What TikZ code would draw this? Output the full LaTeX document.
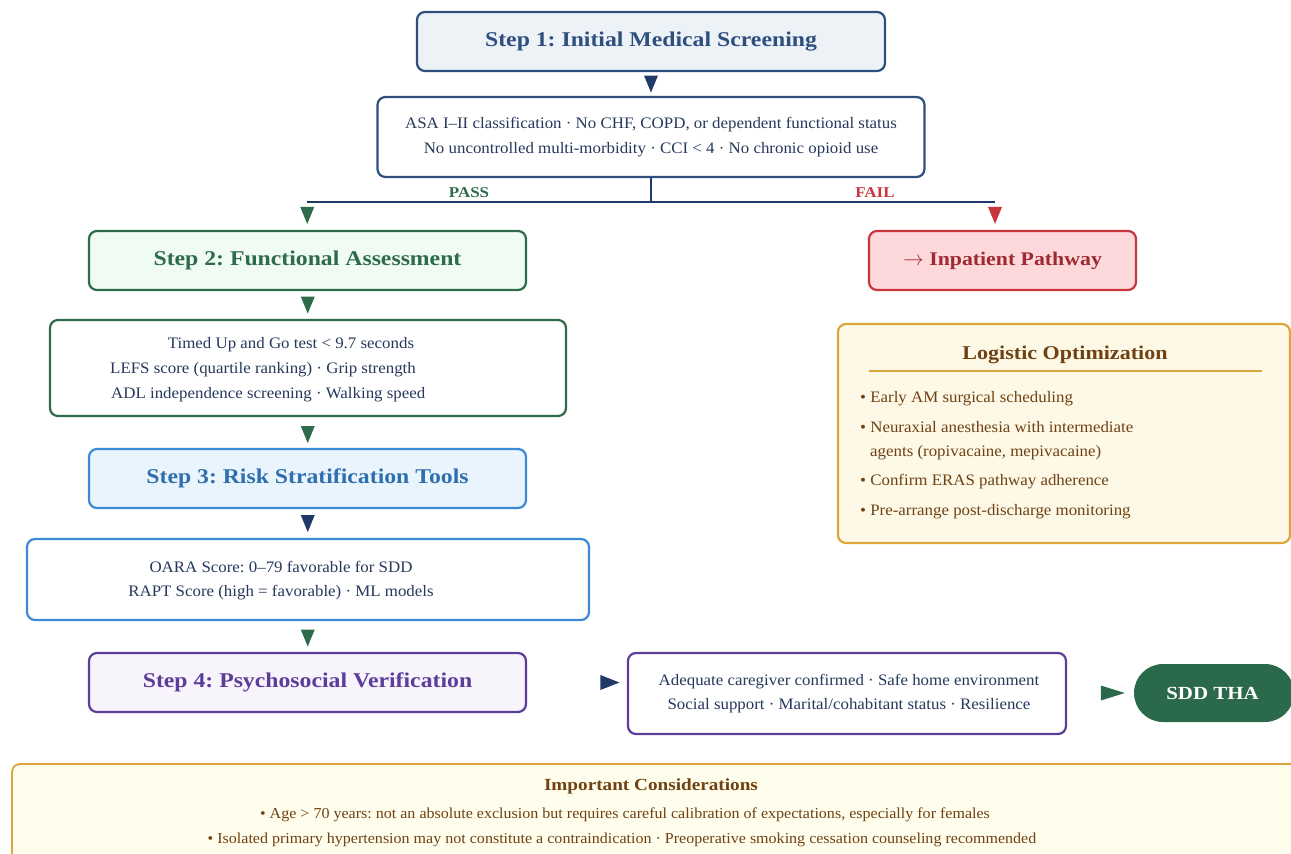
\documentclass[tikz,border=0pt]{standalone}
\usepackage{fontspec}
\setmainfont[FakeStretch=1.055]{Liberation Serif}
\newfontfamily\hdfont[FakeStretch=1.13]{Liberation Serif}
\usetikzlibrary{calc}
\frenchspacing
\definecolor{navy}{HTML}{1F3A68}
\definecolor{txt}{HTML}{26385C}
\definecolor{sonebd}{HTML}{2F4F7F}
\definecolor{sonefill}{HTML}{EDF2F7}
\definecolor{grn}{HTML}{2E6B4A}
\definecolor{grnfill}{HTML}{F0FBF3}
\definecolor{blu}{HTML}{3D8BD5}
\definecolor{blufill}{HTML}{EAF4FC}
\definecolor{blutxt}{HTML}{2F6EAF}
\definecolor{pur}{HTML}{5C3D99}
\definecolor{purfill}{HTML}{F8F4FC}
\definecolor{redbd}{HTML}{C9363E}
\definecolor{redfill}{HTML}{FDD9DC}
\definecolor{redtxt}{HTML}{9E2A32}
\definecolor{gold}{HTML}{DCA63A}
\definecolor{goldfill}{HTML}{FDF9E6}
\definecolor{impfill}{HTML}{FFFDEB}
\definecolor{brown}{HTML}{6F4113}
\definecolor{sddgreen}{HTML}{2A6A4B}
\newcommand\mytridown[2]{\fill[#1] ($(#2)+(-7,-8.5)$) -- ++(14,0) -- ++(-7,17) -- cycle;}
\newcommand\mytriright[3]{\fill[#1] ($(#2)+(-#3/2,-7.5)$) -- ++(#3,7.5) -- ++(-#3,7.5) -- cycle;}
\begin{document}
\begin{tikzpicture}[x=1pt,y=-1pt,
  box/.style={draw, line width=2.2pt, rounded corners=8pt, inner sep=0pt},
  hd/.style={font=\hdfont\fontsize{21}{25}\selectfont\bfseries},
  stepbox/.style={box, minimum width=437pt, minimum height=59pt, hd},
  body/.style={text=txt, font=\fontsize{16}{19}\selectfont, inner sep=0pt, anchor=base},
  lbl/.style={font=\hdfont\fontsize{15}{18}\selectfont\bfseries, inner sep=0pt, anchor=base},
  brn/.style={text=brown, font=\fontsize{16}{19}\selectfont, inner sep=0pt, anchor=base west},
  imp/.style={text=brown, font=\fontsize{15.2}{18}\selectfont, inner sep=0pt, anchor=base}]
\clip (0,0) rectangle (1291,854);
\fill[white] (0,0) rectangle (1291,854);

% Step 1
\node[box, draw=sonebd, fill=sonefill, text=sonebd, minimum width=468pt, minimum height=59pt, hd] (s1) at (651,41.5) {Step 1: Initial Medical Screening};
\node[box, draw=sonebd, fill=white, minimum width=547pt, minimum height=80pt] (c1) at (651,137) {};
\node[body] (c1a) at (651,128) {ASA I–II classification · No CHF, COPD, or dependent functional status};
\node[body] (c1b) at (651,153) {No uncontrolled multi-morbidity · CCI < 4 · No chronic opioid use};
\mytridown{navy}{$(s1.south)!0.5!(c1.north)$}

% split
\coordinate (j) at (651,202);
\coordinate (pL) at (307,202);
\coordinate (pR) at (995,202);
\draw[navy, line width=2pt] (c1.south) -- (j);
\draw[navy, line width=2pt] (pL) -- (pR);
\node[lbl, text=grn] (pass) at (469,197) {PASS};
\node[lbl, text=redbd] (fail) at (875,197) {FAIL};

% Step 2
\node[stepbox, draw=grn, fill=grnfill, text=grn] (s2) at (307.5,260.5) {Step 2: Functional Assessment};
\mytridown{grn}{$(pL)!0.5!(s2.north)+(0,-0.5)$}
\node[box, draw=grn, fill=white, minimum width=516pt, minimum height=96pt] (c2) at (308,368) {};
\mytridown{grn}{$(s2.south)!0.5!(c2.north)$}
\node[body] (c2a) at (291,348) {Timed Up and Go test < 9.7 seconds};
\node[body, anchor=base west] (c2b) at (110,373) {LEFS score (quartile ranking) · Grip strength};
\node[body, anchor=base west] (c2c) at (111,398) {ADL independence screening · Walking speed};

% Fail branch
\node[box, draw=redbd, fill=redfill, text=redtxt, minimum width=267pt, minimum height=59pt,
  font=\hdfont\fontsize{19.3}{24}\selectfont\bfseries] (inp) at (1002.5,260.5) {$\rightarrow$ Inpatient Pathway};
\mytridown{redbd}{$(pR)!0.5!(inp.north -| pR)+(0,-0.5)$}

% Step 3
\node[stepbox, draw=blu, fill=blufill, text=blutxt] (s3) at (307.5,478.5) {Step 3: Risk Stratification Tools};
\mytridown{grn}{$(c2.south)!0.5!(s3.north)+(0,2)$}
\node[box, draw=blu, fill=white, minimum width=562pt, minimum height=81pt] (c3) at (308,579.5) {};
\mytridown{navy}{$(s3.south)!0.5!(c3.north)$}
\node[body] (c3a) at (281,572) {OARA Score: 0–79 favorable for SDD};
\node[body] (c3b) at (281,596) {RAPT Score (high = favorable) · ML models};

% Step 4
\node[stepbox, draw=pur, fill=purfill, text=pur] (s4) at (307.5,682.5) {Step 4: Psychosocial Verification};
\mytridown{grn}{$(c3.south)!0.5!(s4.north)+(0,1.5)$}
\node[box, draw=pur, fill=white, minimum width=438pt, minimum height=81pt] (c4) at (847,693.5) {};
\node[body] (c4a) at (849,685) {Adequate caregiver confirmed · Safe home environment};
\node[body] (c4b) at (849,709) {Social support · Marital/cohabitant status · Resilience};
\mytriright{navy}{$(c4.west |- s4.east)+(-17,0)$}{19}

% SDD THA
\node[fill=sddgreen, rounded corners=29pt, minimum width=160pt, minimum height=58pt, inner sep=0pt] (sdd) at (1214,693) {};
\node[text=white, font=\hdfont\fontsize{18.5}{22}\selectfont\bfseries, inner sep=0pt] (sddt) at (1212.5,693) {SDD THA};
\mytriright{sddgreen}{$(sdd.west)+(-21,0)$}{24}

% Logistic Optimization
\node[box, draw=gold, fill=goldfill, minimum width=452pt, minimum height=219pt] (log) at (1064,433.5) {};
\node[text=brown, font=\hdfont\fontsize{19.5}{23}\selectfont\bfseries, inner sep=0pt, anchor=base] (logt) at (1065,359) {Logistic Optimization};
\draw[gold, line width=1.2pt] ($(log.north west)+(32,48)$) -- ($(log.north east)+(-29,48)$);
\node[brn] (l1) at (860,402) {• Early AM surgical scheduling};
\node[brn] (l2) at (860,432) {• Neuraxial anesthesia with intermediate};
\node[brn] (l2b) at (870,456) {agents (ropivacaine, mepivacaine)};
\node[brn] (l3) at (860,485) {• Confirm ERAS pathway adherence};
\node[brn] (l4) at (860,515) {• Pre-arrange post-discharge monitoring};

% Important considerations
\node[box, draw=gold, line width=1.8pt, fill=impfill, minimum width=1290pt, minimum height=110pt] (impb) at (657,819) {};
\node[text=brown, font=\hdfont\fontsize{17}{20}\selectfont\bfseries, inner sep=0pt, anchor=base] (impt) at (651,790) {Important Considerations};
\node[imp] (i1) at (625,818) {• Age > 70 years: not an absolute exclusion but requires careful calibration of expectations, especially for females};
\node[imp] (i2) at (622,843) {• Isolated primary hypertension may not constitute a contraindication · Preoperative smoking cessation counseling recommended};
\end{tikzpicture}
\end{document}
